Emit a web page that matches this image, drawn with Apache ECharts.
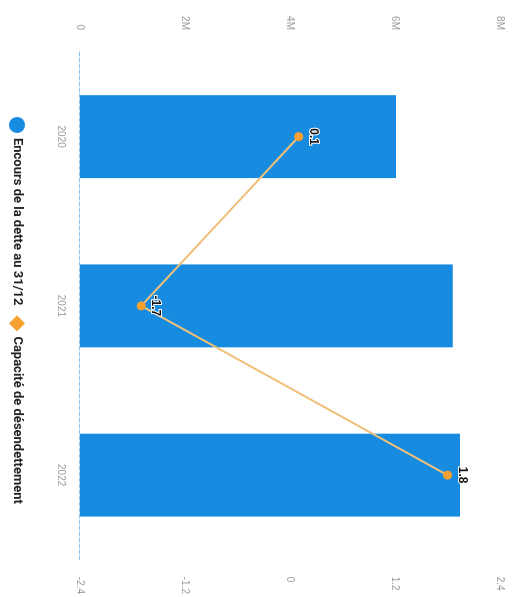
<!DOCTYPE html>
<html>
<head>
<meta charset="utf-8">
<script src="https://cdn.jsdelivr.net/npm/echarts@6/dist/echarts.min.js"></script>
<style>
  html, body { margin: 0; padding: 0; background: #fff; overflow: hidden; }
  #chart {
    position: absolute; left: 0; top: 0;
    width: 597px; height: 518px;
    transform-origin: 0 0;
    transform: translate(518px, 0) rotate(90deg);
  }
</style>
</head>
<body>
<div id="chart"></div>
<script>
// Years shown on the category axis
const years = ['2020', '2021', '2022'];
// Outstanding debt at 31/12 (euros)
const encoursDette = [6020000, 7100000, 7240000];
// Debt repayment capacity (years)
const capaciteDesendettement = [0.1, -1.7, 1.8];

const legendFont = 'Roboto, "Liberation Sans", sans-serif';

const chart = echarts.init(document.getElementById('chart'), null, { renderer: 'canvas' });
chart.setOption({
  animation: false,
  backgroundColor: '#ffffff',
  grid: { left: 52, right: 36, top: 18, bottom: 80, containLabel: false },
  legend: {
    bottom: 4,
    left: 112,
    itemGap: 10,
    itemWidth: 16,
    itemHeight: 16,
    textStyle: { fontFamily: legendFont, fontWeight: 'bold', fontSize: 13, color: '#222' },
    data: [
      { name: 'Encours de la dette au 31/12', icon: 'circle' },
      { name: 'Capacité de désendettement', icon: 'diamond' }
    ]
  },
  xAxis: {
    type: 'category',
    data: years,
    axisLine: { show: true, lineStyle: { color: '#8ec3ee', type: 'dashed', width: 1 } },
    axisTick: { show: false },
    axisLabel: { color: '#9a9a9a', fontSize: 10, margin: 14 }
  },
  yAxis: [
    {
      type: 'value',
      min: 0, max: 8000000, interval: 2000000,
      splitLine: { show: false },
      axisLine: { show: false },
      axisTick: { show: false },
      axisLabel: {
        color: '#9a9a9a', fontSize: 10, margin: 22,
        formatter: v => v === 0 ? '0' : (v / 1e6) + 'M'
      }
    },
    {
      type: 'value',
      min: -2.4, max: 2.4, interval: 1.2,
      splitLine: { show: false },
      axisLine: { show: false },
      axisTick: { show: false },
      axisLabel: {
        color: '#9a9a9a', fontSize: 10, margin: 17,
        formatter: v => (Math.round(v * 10) / 10).toString()
      }
    }
  ],
  series: [
    {
      name: 'Encours de la dette au 31/12',
      type: 'bar',
      yAxisIndex: 0,
      data: encoursDette,
      barWidth: '49%',
      itemStyle: { color: '#178be0' }
    },
    {
      name: 'Capacité de désendettement',
      type: 'line',
      yAxisIndex: 1,
      data: capaciteDesendettement,
      symbol: 'circle',
      symbolSize: 9,
      lineStyle: { color: '#f0c07a', width: 2 },
      itemStyle: { color: '#f5a030' },
      label: {
        show: true,
        position: 'top',
        distance: 4,
        color: '#111',
        fontWeight: 'bold',
        fontSize: 12,
        textBorderColor: '#fff',
        textBorderWidth: 2,
        formatter: p => p.value.toFixed(1)
      },
      z: 5
    }
  ]
});
</script>
</body>
</html>
